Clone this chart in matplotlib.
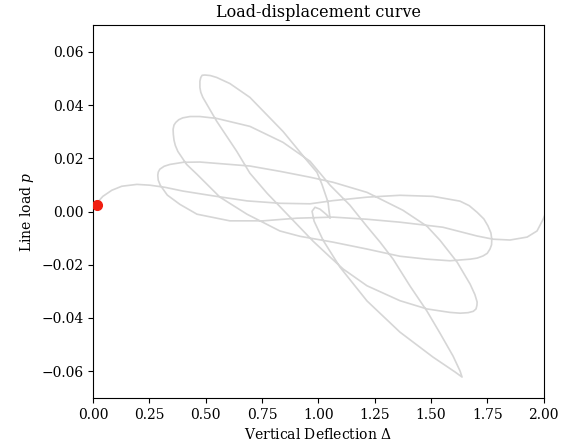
import matplotlib
matplotlib.use('Agg')
import matplotlib.pyplot as plt
import numpy as np

plt.rcParams['font.family'] = ['DejaVu Serif']
plt.rcParams['mathtext.fontset'] = 'dejavuserif'

# load path (vertical deflection, line load)
deflection = [
    0.015, 0.025, 0.043, 0.083, 0.127, 0.194, 0.252, 0.319, 0.398, 0.532,
    0.683, 0.830, 0.963, 1.065, 1.216, 1.362, 1.509, 1.629, 1.670, 1.705,
    1.735, 1.753, 1.766, 1.770, 1.769, 1.762, 1.750, 1.731, 1.705, 1.674,
    1.584, 1.482, 1.362, 1.216, 1.065, 0.918, 0.829, 0.683, 0.563, 0.461,
    0.415, 0.376, 0.365, 0.359, 0.356, 0.355, 0.359, 0.367, 0.380, 0.398,
    0.430, 0.474, 0.548, 0.696, 0.843, 0.963, 1.052, 1.140, 1.211, 1.274,
    1.332, 1.407, 1.482, 1.540, 1.598, 1.629, 1.638, 1.607, 1.509, 1.362,
    1.216, 1.096, 1.021, 0.981, 0.972, 0.985, 1.007, 1.034, 1.052, 1.047,
    1.043, 1.016, 0.994, 0.949, 0.843, 0.696, 0.607, 0.548, 0.520, 0.496,
    0.484, 0.478, 0.474, 0.474, 0.478, 0.487, 0.518, 0.548, 0.637, 0.696,
    0.772, 0.874, 0.976, 1.052, 1.110, 1.216, 1.362, 1.482, 1.584, 1.630,
    1.665, 1.688, 1.700, 1.704, 1.705, 1.695, 1.674, 1.616, 1.540, 1.482,
    1.375, 1.287, 1.216, 1.065, 0.963, 0.830, 0.696, 0.474, 0.400, 0.341,
    0.315, 0.296, 0.289, 0.287, 0.289, 0.298, 0.329, 0.385, 0.461, 0.607,
    0.754, 0.905, 1.065, 1.216, 1.362, 1.553, 1.705, 1.776, 1.851, 1.927,
    1.971, 1.998, 2.020,
]
load = [
    0.0024, 0.0040, 0.0057, 0.0080, 0.0095, 0.0102, 0.0099, 0.0091, 0.0077, 0.0059,
    0.0040, 0.0031, 0.0029, 0.0041, 0.0054, 0.0061, 0.0057, 0.0039, 0.0022, -0.0003,
    -0.0028, -0.0054, -0.0080, -0.0104, -0.0125, -0.0141, -0.0157, -0.0167, -0.0175, -0.0179,
    -0.0185, -0.0179, -0.0168, -0.0141, -0.0115, -0.0093, -0.0073, -0.0010, 0.0054, 0.0140,
    0.0177, 0.0226, 0.0248, 0.0268, 0.0290, 0.0309, 0.0325, 0.0335, 0.0345, 0.0352,
    0.0357, 0.0357, 0.0350, 0.0320, 0.0260, 0.0189, 0.0099, 0.0024, -0.0051, -0.0115,
    -0.0179, -0.0280, -0.0374, -0.0457, -0.0543, -0.0599, -0.0622, -0.0603, -0.0547, -0.0453,
    -0.0336, -0.0209, -0.0108, -0.0036, 0.0001, 0.0016, 0.0009, -0.0010, -0.0025, 0.0005,
    0.0035, 0.0102, 0.0147, 0.0192, 0.0301, 0.0429, 0.0481, 0.0504, 0.0511, 0.0513,
    0.0512, 0.0504, 0.0490, 0.0466, 0.0448, 0.0429, 0.0384, 0.0340, 0.0227, 0.0144,
    0.0069, -0.0021, -0.0111, -0.0171, -0.0216, -0.0279, -0.0335, -0.0366, -0.0379, -0.0382,
    -0.0380, -0.0375, -0.0366, -0.0353, -0.0340, -0.0312, -0.0273, -0.0190, -0.0108, -0.0055,
    0.0005, 0.0042, 0.0072, 0.0110, 0.0129, 0.0151, 0.0171, 0.0186, 0.0185, 0.0177,
    0.0170, 0.0159, 0.0148, 0.0136, 0.0118, 0.0099, 0.0062, 0.0027, -0.0010, -0.0035,
    -0.0035, -0.0025, -0.0021, -0.0029, -0.0040, -0.0059, -0.0092, -0.0104, -0.0107, -0.0096,
    -0.0073, -0.0029, 0.0016,
]

current_point = (0.015, 0.0024)

fig = plt.figure(figsize=(5.68, 4.43), dpi=100)
ax = fig.add_axes([0.164, 0.102, 0.793, 0.841])

ax.plot(deflection, load, color='#d6d6d6', linewidth=1.2, solid_joinstyle='round')
ax.plot(current_point[0], current_point[1], 'o', color='#f01e10', markersize=7, zorder=3)

ax.set_xlim(0, 2)
ax.set_ylim(-0.07, 0.07)
ax.set_xticks(np.arange(0, 2.01, 0.25))
ax.set_yticks([-0.06, -0.04, -0.02, 0.0, 0.02, 0.04, 0.06])
ax.set_xlabel(r'Vertical Deflection $\Delta$')
ax.set_ylabel(r'Line load $p$')
ax.set_title('Load-displacement curve', fontsize=11.5)

fig.savefig('out.png', dpi=100)
